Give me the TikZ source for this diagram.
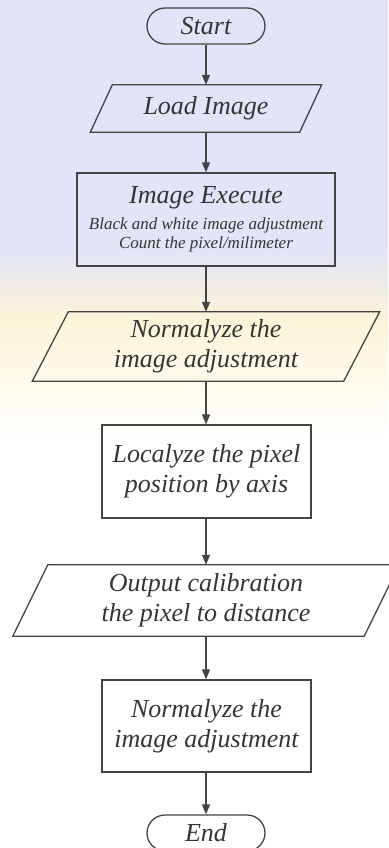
\documentclass[tikz,border=0pt]{standalone}
\usepackage{fontspec}
\setmainfont{Liberation Serif}
\usetikzlibrary{arrows.meta,calc}

\definecolor{ink}{HTML}{353535}
\definecolor{edge}{HTML}{444444}
\definecolor{sealblue}{HTML}{E2E4F7}
\definecolor{sealgold}{HTML}{FCF4D8}

\tikzset{
  base/.style={inner sep=0pt, text=ink, align=center,
    font=\fontsize{26}{30}\selectfont\itshape},
  procbox/.style={base, draw=edge, line width=1.3pt, rectangle},
  termbox/.style={base, draw=edge, line width=1.3pt, rectangle,
    rounded corners=18pt, minimum width=118pt, minimum height=36pt},
  iotext/.style={base, rectangle},
  ioframe/.style={draw=edge, line width=1.3pt, line join=miter},
  flow/.style={draw=edge, line width=1.3pt,
    -{Triangle[width=8pt,length=10pt]}},
}

% parallelogram drawn round a text node: #1 node name, #2 horizontal slant
\newcommand{\ioshape}[2]{%
  \draw[ioframe] ($(#1.north west)+(#2/2,0)$) -- ($(#1.north east)+(#2/2,0)$)
    -- ($(#1.south east)-(#2/2,0)$) -- ($(#1.south west)-(#2/2,0)$) -- cycle;}

\begin{document}
\begin{tikzpicture}[x=1pt,y=-1pt]
  \useasboundingbox (0,0) rectangle (388,848);

  % faint seal in the background
  \fill[sealblue] (0,0) rectangle (388,250);
  \shade[top color=sealblue, bottom color=sealgold] (0,249) rectangle (388,320);
  \shade[top color=sealgold, bottom color=white] (0,319) rectangle (388,440);

  % steps of the flow
  \node[termbox] (start) at (206,26) {Start};

  \node[iotext, minimum width=209pt, minimum height=47pt] (load) at (206,108.5) {Load Image};
  \ioshape{load}{22}

  \node[procbox, minimum width=258pt, minimum height=93pt,
        font=\fontsize{17}{19}\selectfont\itshape] (exec) at (206,219.5)
    {{\fontsize{26}{30}\selectfont Image Execute}\\[7pt]
     Black and white image adjustment\\
     Count the pixel/milimeter};

  \node[iotext, minimum width=311pt, minimum height=69pt] (norm) at (206,346.5)
    {Normalyze the\\image adjustment};
  \ioshape{norm}{36}

  \node[procbox, minimum width=209pt, minimum height=93pt] (local) at (206.5,471.5)
    {Localyze the pixel\\position by axis};

  \node[iotext, minimum width=351pt, minimum height=71pt] (out) at (206,600.5)
    {Output calibration\\the pixel to distance};
  \ioshape{out}{35}

  \node[procbox, minimum width=209pt, minimum height=92pt] (final) at (206.5,726)
    {Normalyze the\\image adjustment};

  \node[termbox] (end) at (206,833) {End};

  % connectors
  \draw[flow] (start) -- (load);
  \draw[flow] (load) -- (exec);
  \draw[flow] (exec) -- (norm);
  \draw[flow] (norm) -- (local.north -| norm);
  \draw[flow] (local.south -| norm) -- (out);
  \draw[flow] (out) -- (final.north -| out);
  \draw[flow] (final.south -| out) -- (end);
\end{tikzpicture}
\end{document}
